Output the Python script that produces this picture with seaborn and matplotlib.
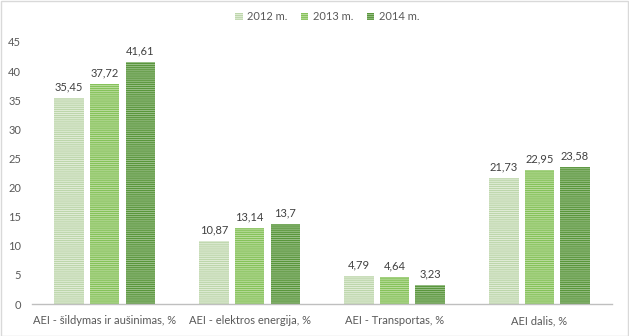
import matplotlib
matplotlib.use("Agg")
import matplotlib.pyplot as plt
import seaborn as sns
import pandas as pd
from matplotlib.patches import Patch, Rectangle

categories = ["AEI - šildymas ir aušinimas, %", "AEI - elektros energija, %",
              "AEI - Transportas, %", "AEI dalis, %"]
years = ["2012 m.", "2013 m.", "2014 m."]
v2012 = [35.45, 10.87, 4.79, 21.73]
v2013 = [37.72, 13.14, 4.64, 22.95]
v2014 = [41.61, 13.7, 3.23, 23.58]

colors = ["#bdd6ab", "#86c25a", "#5a963c"]
faces = ["#e6f0de", "#c2e0a8", "#a3c694"]

rows = []
for y, vals in zip(years, [v2012, v2013, v2014]):
    for c, v in zip(categories, vals):
        rows.append({"cat": c, "year": y, "val": v})
df = pd.DataFrame(rows)

sns.set_theme(style="white")
plt.rcParams['font.family'] = ['Lato', 'DejaVu Sans']
plt.rcParams['hatch.linewidth'] = 0.9

fig = plt.figure(figsize=(6.29, 3.36), dpi=100)
ax = fig.add_axes([0.051, 0.095, 0.922, 0.78])
sns.barplot(data=df, x="cat", y="val", hue="year", palette=colors,
            width=0.735, gap=0.18, ax=ax, legend=False)

for cont, col, fc in zip(ax.containers, colors, faces):
    for p in cont:
        p.set_facecolor(fc)
        p.set_edgecolor(col)
        p.set_linewidth(0)
        p.set_hatch("-" * 8)
    ax.bar_label(cont, labels=[f"{v:g}".replace(".", ",") for v in cont.datavalues],
                 padding=4, fontsize=8, color="#404040")

ax.set_ylim(0, 45)
ax.set_yticks(range(0, 50, 5))
ax.set_xlim(-0.5, 3.5)
ax.set_xlabel("")
ax.set_ylabel("")
for s in ["top", "right", "left"]:
    ax.spines[s].set_visible(False)
ax.spines["bottom"].set_color("#bfbfbf")
ax.spines["bottom"].set_linewidth(1)
ax.tick_params(axis="both", length=0, labelsize=8, colors="#595959", pad=8)
ax.tick_params(axis="y", pad=8)

handles = [Patch(facecolor=fc, edgecolor=c, hatch="-" * 8, linewidth=0) for c, fc in zip(colors, faces)]
fig.legend(handles, years, loc="center", bbox_to_anchor=(0.52, 0.95), ncol=3,
           frameon=False, fontsize=8, handlelength=0.7, handleheight=0.7,
           handletextpad=0.4, columnspacing=1.2, labelcolor="#595959")

fig.patches.append(Rectangle((0.001, 0.001), 0.997, 0.996, transform=fig.transFigure,
                             fill=False, edgecolor="#d9d9d9", linewidth=1))

fig.savefig("out.png", dpi=100, facecolor="white")
